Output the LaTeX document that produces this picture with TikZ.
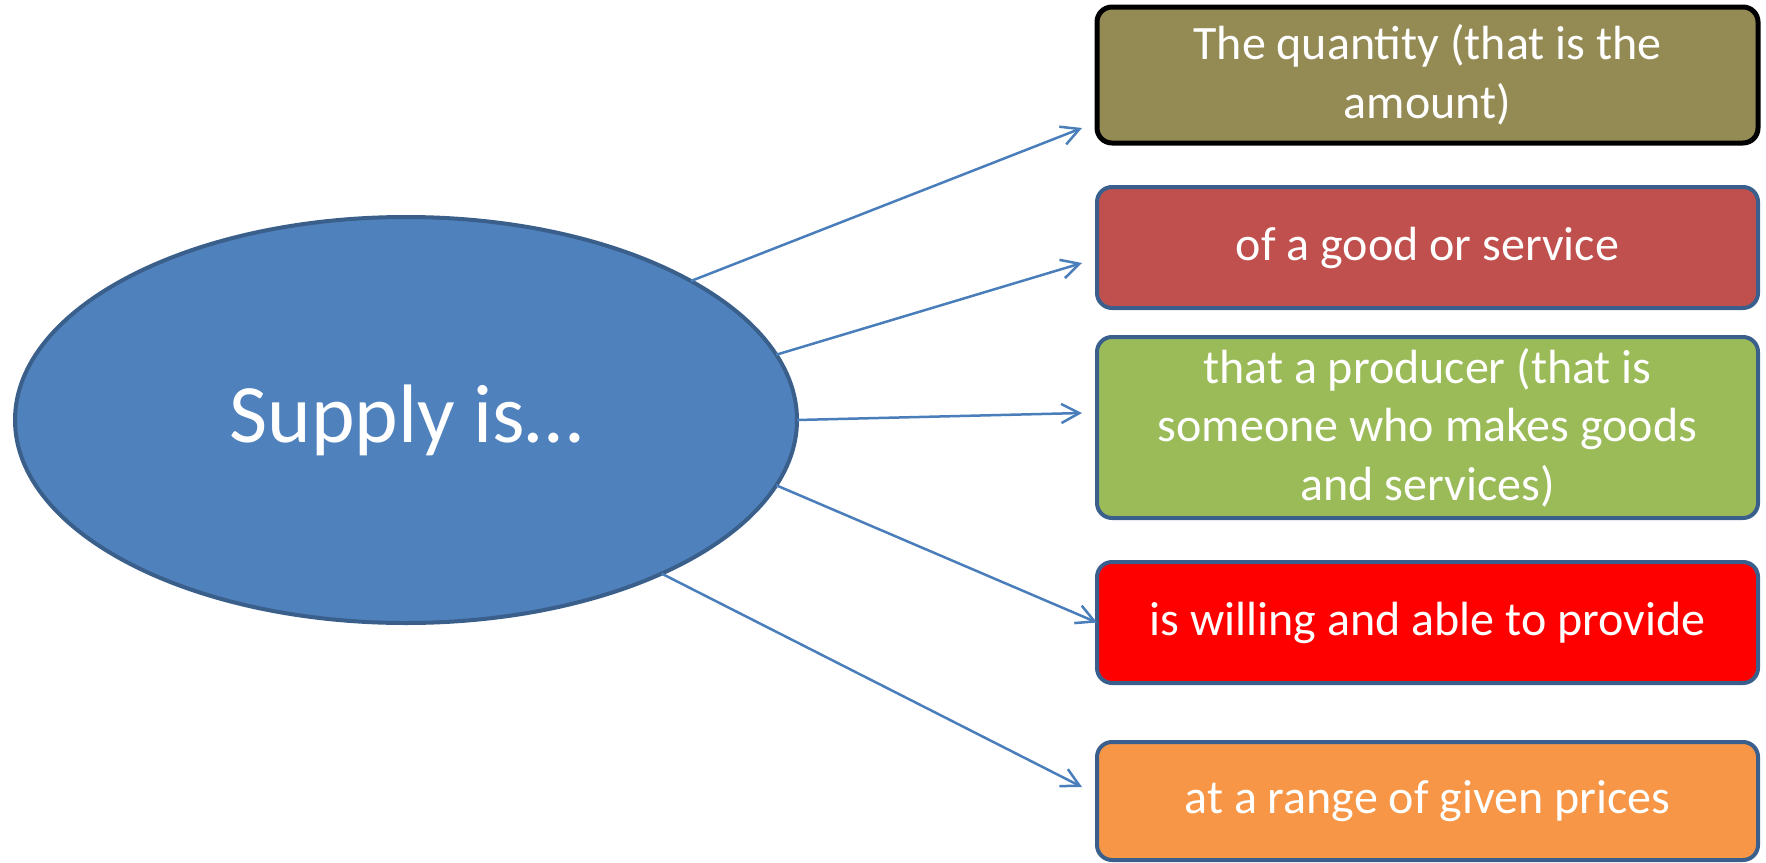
\documentclass[tikz,border=0pt]{standalone}
\usepackage{fontspec}
\setmainfont{Carlito}
\usetikzlibrary{shapes.geometric,arrows.meta}
\definecolor{ellfill}{HTML}{4F81BD}
\definecolor{ellline}{HTML}{3A5F8B}
\definecolor{arrcol}{HTML}{4A7EBB}
\definecolor{boxline}{HTML}{3B5F8C}
\definecolor{olivefill}{HTML}{948A54}
\definecolor{redfill}{HTML}{C0504D}
\definecolor{greenfill}{HTML}{9BBB59}
\definecolor{brightred}{HTML}{FF0000}
\definecolor{orangefill}{HTML}{F79646}
\tikzset{
  bubble/.style={ellipse, fill=ellfill, draw=ellline, line width=2pt,
    minimum width=391pt, minimum height=203pt, inner sep=0pt, outer sep=0pt,
    text=white, font=\fontsize{41.5pt}{50pt}\selectfont},
  infobox/.style={rounded corners=7.5pt, draw=boxline, line width=2pt,
    minimum width=330.5pt, inner sep=0pt, outer sep=0pt, text=white,
    align=center, font=\fontsize{24pt}{29.3pt}\selectfont},
  arr/.style={draw=arrcol, line width=1.25pt, -{Straight Barb[length=9pt,width=9.5pt,line width=1.25pt]}}
}
\begin{document}
\begin{tikzpicture}[x=0.5pt,y=-0.5pt]
\useasboundingbox (0,0) rectangle (1766,862);
\node[bubble] (e) at (406,420) {Supply is…};
\node[infobox, fill=olivefill, draw=black, line width=2.5pt, minimum height=68pt] (b1) at (1427.5,75) {The quantity (that is the\\amount)};
\node[infobox, fill=redfill, minimum height=60.5pt] (b2) at (1427.5,247.5) {of a good or service};
\node[infobox, fill=greenfill, minimum height=90.5pt] (b3) at (1427.5,427.5) {that a producer (that is\\someone who makes goods\\and services)};
\node[infobox, fill=brightred, minimum height=60.5pt] (b4) at (1427.5,622.5) {is willing and able to provide};
\node[infobox, fill=orangefill, minimum height=59pt] (b5) at (1427.5,801) {at a range of given prices};
\draw[arr] (e.26.6) -- ([xshift=-7.5pt,yshift=-26.5pt]b1.west);
\draw[arr] (e.10.1) -- ([xshift=-7.5pt,yshift=-7.75pt]b2.west);
\draw[arr] (e.0) -- ([xshift=-7.5pt,yshift=7.25pt]b3.west);
\draw[arr] (e.-10.8) -- (b4.west);
\draw[arr] (e.-31.5) -- ([xshift=-7.5pt,yshift=7pt]b5.west);
\end{tikzpicture}
\end{document}
